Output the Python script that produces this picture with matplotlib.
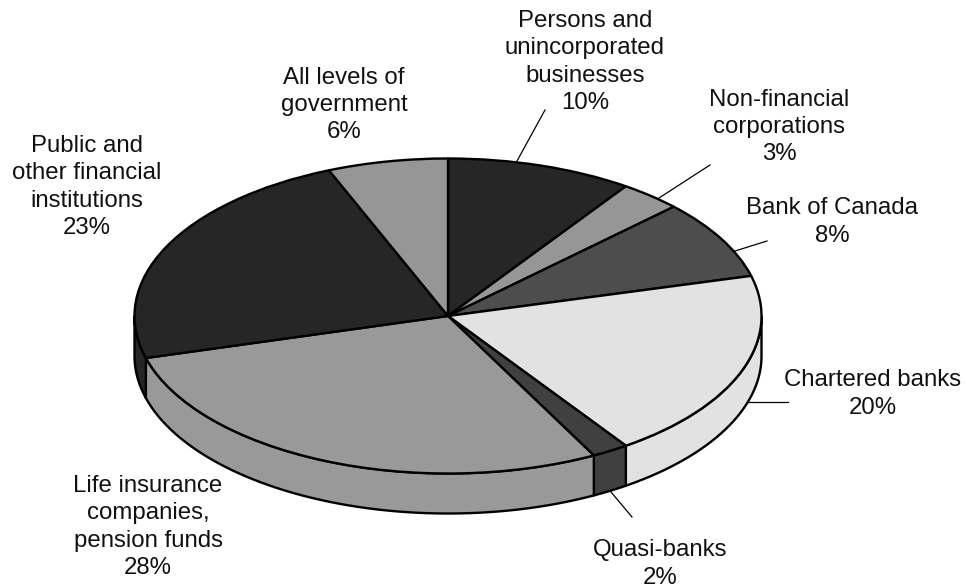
import numpy as np
import matplotlib
matplotlib.use("Agg")
import matplotlib.pyplot as plt
from matplotlib.patches import Polygon
from matplotlib.transforms import Affine2D

categories = ["Persons and\nunincorporated\nbusinesses", "Non-financial\ncorporations",
              "Bank of Canada", "Chartered banks", "Quasi-banks",
              "Life insurance\ncompanies,\npension funds",
              "Public and\nother financial\ninstitutions", "All levels of\ngovernment"]
values = [9.6, 3.2, 8.1, 19.5, 1.9, 28.4, 23.1, 6.2]
percent_labels = ["10%", "3%", "8%", "20%", "2%", "28%", "23%", "6%"]
colors = ["#262626", "#969696", "#4d4d4d", "#e2e2e2", "#404040", "#999999", "#262626", "#969696"]

W, H = 966, 588
CX, CY, RX, RY, DEPTH = 448, 316, 313.5, 157.5, 40
plt.rcParams['font.family'] = ['Liberation Sans', 'DejaVu Sans']

fig = plt.figure(figsize=(W / 100, H / 100), dpi=100)
ax = fig.add_axes([0, 0, 1, 1])
ax.pie(values, colors=colors, startangle=90, counterclock=False, radius=1,
       wedgeprops=dict(edgecolor="black", linewidth=1.7, joinstyle="round", zorder=3))
ax.set_aspect("auto")
ax.set_xlim(-CX / RX, (W - CX) / RX)
ax.set_ylim(-(H - CY) / RY, CY / RY)
ax.axis("off")

# Side wall of the disc, built from the same values
d = DEPTH / RY
edges = 90 - 360 * np.concatenate([[0], np.cumsum(values)]) / sum(values)
for a0, a1, c in zip(edges[:-1], edges[1:], colors):
    t = np.radians(np.linspace(a0, a1, 200))
    t = t[np.sin(t) <= 0]
    if len(t) < 2:
        continue
    x, y = np.cos(t), np.sin(t)
    pts = np.r_[np.c_[x, y], np.c_[x[::-1], y[::-1] - d]]
    ax.add_patch(Polygon(pts, closed=True, facecolor=c, edgecolor="black",
                         linewidth=1.7, joinstyle="round", zorder=2))

# Pixel-based coordinates (origin top-left) for labels and leaders
px = Affine2D().scale(1, -1).translate(0, H)

label_pos = [(585, 62), (779, 127), (832.5, 222), (873, 394), (660, 564), (148, 527), (87, 187), (344, 105)]
for name, pct, (lx, ly) in zip(categories, percent_labels, label_pos):
    ax.text(lx, ly, f"{name}\n{pct}", transform=px, ha="center", va="center",
            fontsize=17.3, linespacing=1.3, color="#111111")

leaders = [((517, 161), (545, 110)), ((659, 198), (710, 165)), ((735, 251), (767, 241)),
           ((748, 402), (788, 402)), ((611, 492), (632, 517))]
for (x0, y0), (x1, y1) in leaders:
    ax.plot([x0, x1], [y0, y1], transform=px, color="black", lw=0.9, zorder=1, clip_on=False)

fig.savefig("out.png", dpi=100, facecolor="white")
